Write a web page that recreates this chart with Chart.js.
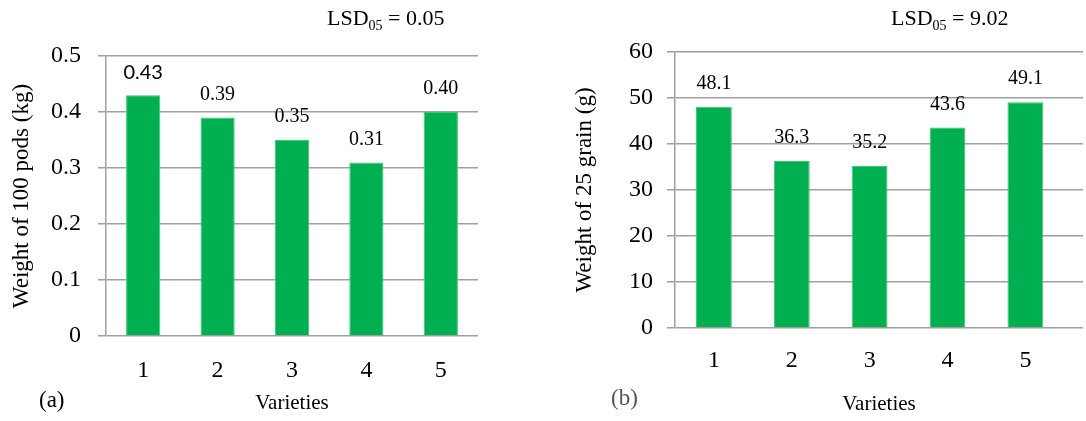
<!DOCTYPE html>
<html>
<head>
<meta charset="utf-8">
<script src="https://cdn.jsdelivr.net/npm/chart.js@4"></script>
<style>
  body { margin: 0; background: #fff; font-family: 'Liberation Serif', serif; }
  #wrap { position: relative; width: 1086px; height: 421px; }
  .panel { position: absolute; top: 0; width: 543px; height: 421px; }
  .lsd { position: absolute; font-size: 22px; line-height: 22px; color: #000; white-space: nowrap; }
  .lsd sub { font-size: 14px; vertical-align: -5px; line-height: 0; }
  .tag { position: absolute; font-size: 23px; line-height: 23px; }
</style>
</head>
<body>
<div id="wrap">
  <div class="panel" style="left:0"><canvas id="chartA" width="543" height="421"></canvas></div>
  <div class="panel" style="left:543px"><canvas id="chartB" width="543" height="421"></canvas></div>
  <div class="lsd" style="left:327px; top:7px">LSD<sub>05</sub> = 0.05</div>
  <div class="lsd" style="left:891px; top:7px">LSD<sub>05</sub> = 9.02</div>
  <div class="tag" style="left:39px; top:388px; color:#000">(a)</div>
  <div class="tag" style="left:611px; top:386px; color:#555">(b)</div>
</div>
<script>
// varieties on the x axis
const varieties = [1, 2, 3, 4, 5];
// (a) weight of 100 pods, kg
const podWeight = [0.43, 0.39, 0.35, 0.31, 0.40];
// (b) weight of 25 grain, g
const grainWeight = [48.1, 36.3, 35.2, 43.6, 49.1];

const green = '#00b050';
const gridGray = '#a0a0a0';
const serif = "'Liberation Serif', 'Times New Roman', serif";

// value labels above the bars
const barLabels = {
  id: 'barLabels',
  afterDatasetsDraw(chart, args, opts) {
    const ctx = chart.ctx;
    const meta = chart.getDatasetMeta(0);
    const ds = chart.data.datasets[0];
    ctx.save();
    ctx.textAlign = 'center';
    ctx.textBaseline = 'middle';
    ctx.fillStyle = '#000';
    meta.data.forEach((bar, i) => {
      const v = ds.data[i].y;
      ctx.font = (i === opts.sansIndex) ? "20px Lato, sans-serif" : "20px " + serif;
      ctx.fillText(v.toFixed(opts.decimals), bar.x, bar.y - opts.offset);
    });
    ctx.restore();
  }
};

function makeChart(id, values, cfg) {
  return new Chart(document.getElementById(id), {
    type: 'bar',
    data: {
      datasets: [{
        data: varieties.map((v, i) => ({ x: v, y: values[i] })),
        backgroundColor: green,
        borderColor: '#3cc878',
        borderWidth: 1,
        categoryPercentage: 1,
        barPercentage: 0.46
      }]
    },
    options: {
      responsive: false,
      animation: false,
      layout: { padding: { top: cfg.top, right: cfg.right, bottom: 0, left: 0 } },
      plugins: {
        legend: { display: false },
        tooltip: { enabled: false },
        barLabels: { decimals: cfg.decimals, offset: 23, sansIndex: cfg.sansIndex }
      },
      scales: {
        x: {
          type: 'linear',
          offset: false,
          min: 0.5,
          max: cfg.xMax,
          afterBuildTicks: s => { s.ticks = varieties.map(v => ({ value: v })); },
          afterFit: s => { s.height = cfg.xHeight; },
          grid: { display: false, drawTicks: false },
          border: { display: false },
          ticks: { color: '#000', padding: cfg.xTickPad, font: { family: serif, size: 24 } },
          title: {
            display: true, text: 'Varieties', color: '#000',
            font: { family: serif, size: 21 }, padding: { top: 0, bottom: cfg.xTitlePad }
          }
        },
        y: {
          min: 0,
          max: cfg.yMax,
          afterFit: s => { s.width = cfg.yWidth; },
          ticks: {
            stepSize: cfg.step, color: '#000', padding: cfg.yTickPad,
            font: { family: serif, size: 24 }
          },
          grid: { color: gridGray, lineWidth: 1.5, tickLength: 8 },
          border: { color: gridGray, width: 1.5 },
          title: {
            display: true, text: cfg.yTitle, color: '#000',
            font: { family: serif, size: 23 }, padding: { top: cfg.yTitlePad, bottom: 0 }
          }
        }
      }
    },
    plugins: [barLabels]
  });
}

makeChart('chartA', podWeight, {
  top: 56, right: 65, xHeight: 85, yWidth: 106, xMax: 5.5,
  yMax: 0.5, step: 0.1, decimals: 2, sansIndex: 0,
  yTitle: 'Weight of 100 pods (kg)', yTitlePad: 8, yTickPad: 17,
  xTickPad: 20, xTitlePad: 5
});

makeChart('chartB', grainWeight, {
  top: 52, right: 3, xHeight: 93, yWidth: 132, xMax: 5.74,
  yMax: 60, step: 10, decimals: 1, sansIndex: -1,
  yTitle: 'Weight of 25 grain (g)', yTitlePad: 28, yTickPad: 14,
  xTickPad: 18, xTitlePad: 4
});
</script>
</body>
</html>
